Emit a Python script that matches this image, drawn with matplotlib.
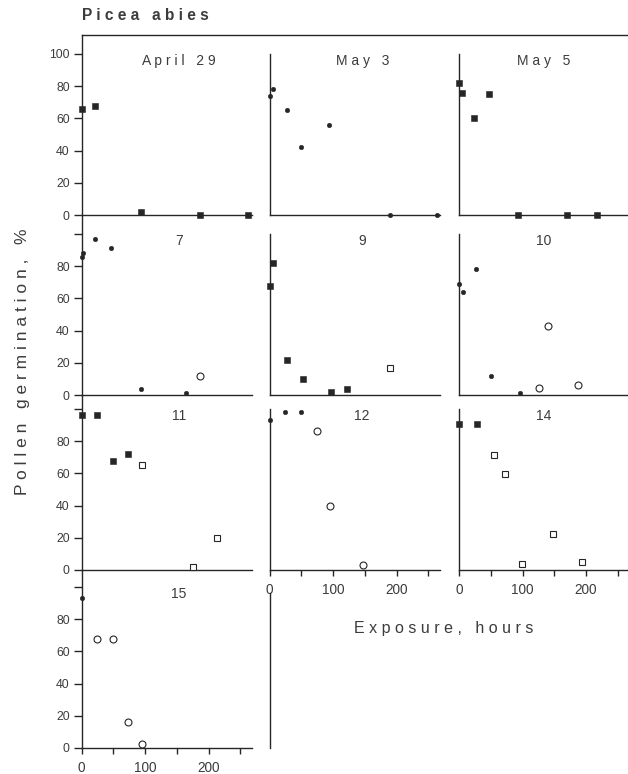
import matplotlib
matplotlib.use("Agg")
import matplotlib.pyplot as plt
from matplotlib.lines import Line2D

# ---------------- data (hours of exposure, % germination) ----------------
panel_titles = ["April 29", "May 3", "May 5", "7", "9", "10", "11", "12", "14", "15"]

apr29_fsq_x = [0, 21, 94, 186, 262]
apr29_fsq_y = [66, 68, 2, 0, 0]

may3_fdot_x = [0, 6, 28, 50, 94, 189, 264]
may3_fdot_y = [74, 78, 65, 42, 56, 0, 0]

may5_fsq_x = [0, 5, 24, 48, 93, 170, 218]
may5_fsq_y = [82, 76, 60, 75, 0, 0, 0]

d7_fdot_x = [0, 3, 21, 47, 94, 165]
d7_fdot_y = [86, 88, 97, 91, 4, 1.5]
d7_ocirc_x = [187]
d7_ocirc_y = [12]

d9_fsq_x = [0, 6, 27, 52, 97, 122]
d9_fsq_y = [68, 82, 22, 10, 2, 3.5]
d9_osq_x = [190]
d9_osq_y = [16.5]

d10_fdot_x = [0, 6, 26, 50, 96]
d10_fdot_y = [69, 64, 78, 12, 1.5]
d10_ocirc_x = [126, 140, 188]
d10_ocirc_y = [4.5, 43, 6]

d11_fsq_x = [0, 25, 49, 74]
d11_fsq_y = [96, 96, 67.5, 72]
d11_osq_x = [96, 175, 214]
d11_osq_y = [65, 2, 20]

d12_fdot_x = [0, 25, 50]
d12_fdot_y = [93, 98, 98]
d12_ocirc_x = [75, 96, 148]
d12_ocirc_y = [86.5, 40, 3]

d14_fsq_x = [0, 28]
d14_fsq_y = [90.5, 90.5]
d14_osq_x = [55, 72, 99, 148, 193]
d14_osq_y = [71.5, 59.5, 3.5, 22.5, 5]

d15_fdot_x = [0]
d15_fdot_y = [93]
d15_ocirc_x = [25, 49, 74, 96]
d15_ocirc_y = [68, 68, 16, 2.5]

y_ticks = [0, 20, 40, 60, 80, 100]
x_ticks = [0, 50, 100, 150, 200, 250]
x_ticklabels = ["0", "", "100", "", "200", ""]

panels = [
    ("April 29", 0, 0, [("fsq", apr29_fsq_x, apr29_fsq_y)]),
    ("May 3", 0, 1, [("fdot", may3_fdot_x, may3_fdot_y)]),
    ("May 5", 0, 2, [("fsq", may5_fsq_x, may5_fsq_y)]),
    ("7", 1, 0, [("fdot", d7_fdot_x, d7_fdot_y), ("ocirc", d7_ocirc_x, d7_ocirc_y)]),
    ("9", 1, 1, [("fsq", d9_fsq_x, d9_fsq_y), ("osq", d9_osq_x, d9_osq_y)]),
    ("10", 1, 2, [("fdot", d10_fdot_x, d10_fdot_y), ("ocirc", d10_ocirc_x, d10_ocirc_y)]),
    ("11", 2, 0, [("fsq", d11_fsq_x, d11_fsq_y), ("osq", d11_osq_x, d11_osq_y)]),
    ("12", 2, 1, [("fdot", d12_fdot_x, d12_fdot_y), ("ocirc", d12_ocirc_x, d12_ocirc_y)]),
    ("14", 2, 2, [("fsq", d14_fsq_x, d14_fsq_y), ("osq", d14_osq_x, d14_osq_y)]),
    ("15", 3, 0, [("fdot", d15_fdot_x, d15_fdot_y), ("ocirc", d15_ocirc_x, d15_ocirc_y)]),
]

# ---------------- style / layout ----------------
ink = "#262626"
txt = "#3c3c3c"
plt.rcParams["font.family"] = ["Liberation Sans", "DejaVu Sans"]

W, H = 628, 774
fig = plt.figure(figsize=(W / 100, H / 100), dpi=100)
fig.patch.set_facecolor("white")

px_hr = 0.635
px_unit = 1.61
xmax = 268
col_left = [81.5, 269.5, 459]
row_base = [215, 395, 570, 748]
row_top = [35, 215, 395, 570]
title_x = [153, 146, 133]
title_y = 95.5

styles = {
    "fsq": dict(marker="s", ms=4.8, mfc=ink, mec=ink, mew=0.4),
    "fdot": dict(marker="o", ms=3.3, mfc=ink, mec=ink, mew=0.3),
    "ocirc": dict(marker="o", ms=5.0, mfc="white", mec=ink, mew=0.8),
    "osq": dict(marker="s", ms=4.0, mfc="white", mec=ink, mew=0.8),
}

def spaced(s):
    return " ".join(s)

def make_axes(row, col):
    left = col_left[col]
    base = row_base[row]
    top = row_top[row]
    wpx = xmax * px_hr
    hpx = base - top
    ax = fig.add_axes([left / W, 1 - base / H, wpx / W, hpx / H])
    ax.set_xlim(0, xmax)
    ax.set_ylim(0, hpx / px_unit)
    ax.patch.set_alpha(0)
    for s in ["top", "right"]:
        ax.spines[s].set_visible(False)
    for s in ["left", "bottom"]:
        ax.spines[s].set_color(ink)
        ax.spines[s].set_linewidth(1.0)
    return ax

xtick_cells = {(2, 1), (2, 2), (3, 0)}

for title, row, col, series in panels:
    ax = make_axes(row, col)
    for kind, xs, ys in series:
        ax.plot(xs, ys, ls="none", clip_on=False, zorder=5, **styles[kind])
    # y axis
    if col == 0:
        ax.set_yticks(y_ticks)
        if row == 0:
            ax.set_yticklabels([str(v) for v in y_ticks])
        else:
            ax.set_yticklabels([str(v) for v in y_ticks[:-1]] + [""])
        ax.tick_params(axis="y", direction="out", length=6, width=1.0,
                       color=ink, labelsize=8.8, labelcolor=txt, pad=2.5)
    else:
        ax.set_yticks([])
        ax.spines["left"].set_bounds(0, 100)
    # x axis
    if (row, col) in xtick_cells:
        ax.set_xticks(x_ticks)
        ax.set_xticklabels(x_ticklabels)
        ax.tick_params(axis="x", direction="out", length=4.5, width=1.0,
                       color=ink, labelsize=9.8, labelcolor=txt, pad=5)
    else:
        ax.set_xticks([])
    ax.text(title_x[col], title_y, spaced(title) if not title.isdigit() else title,
            ha="center", va="center", fontsize=10, color=txt)

# stub axis (left spine of the empty bottom-middle cell)
stub = make_axes(3, 1)
stub.set_xticks([])
stub.set_yticks([])
stub.spines["bottom"].set_visible(False)
stub.spines["left"].set_bounds(0, 96)

# frame line along the top
fig.add_artist(Line2D([col_left[0] / W, 1.0], [1 - 35 / H, 1 - 35 / H],
                      color=ink, lw=1.0, transform=fig.transFigure))

fig.text(82 / W, 1 - 16 / H, spaced("Picea abies"), ha="left", va="center",
         fontsize=11.2, fontweight="bold", color=txt)
fig.text(23 / W, 1 - 362 / H, spaced("Pollen germination, %"), ha="center",
         va="center", rotation=90, fontsize=12.5, color=txt)
fig.text(444 / W, 1 - 629 / H, spaced("Exposure, hours"), ha="center",
         va="center", fontsize=11.5, color=txt)

fig.savefig("out.png", dpi=100, facecolor="white")
